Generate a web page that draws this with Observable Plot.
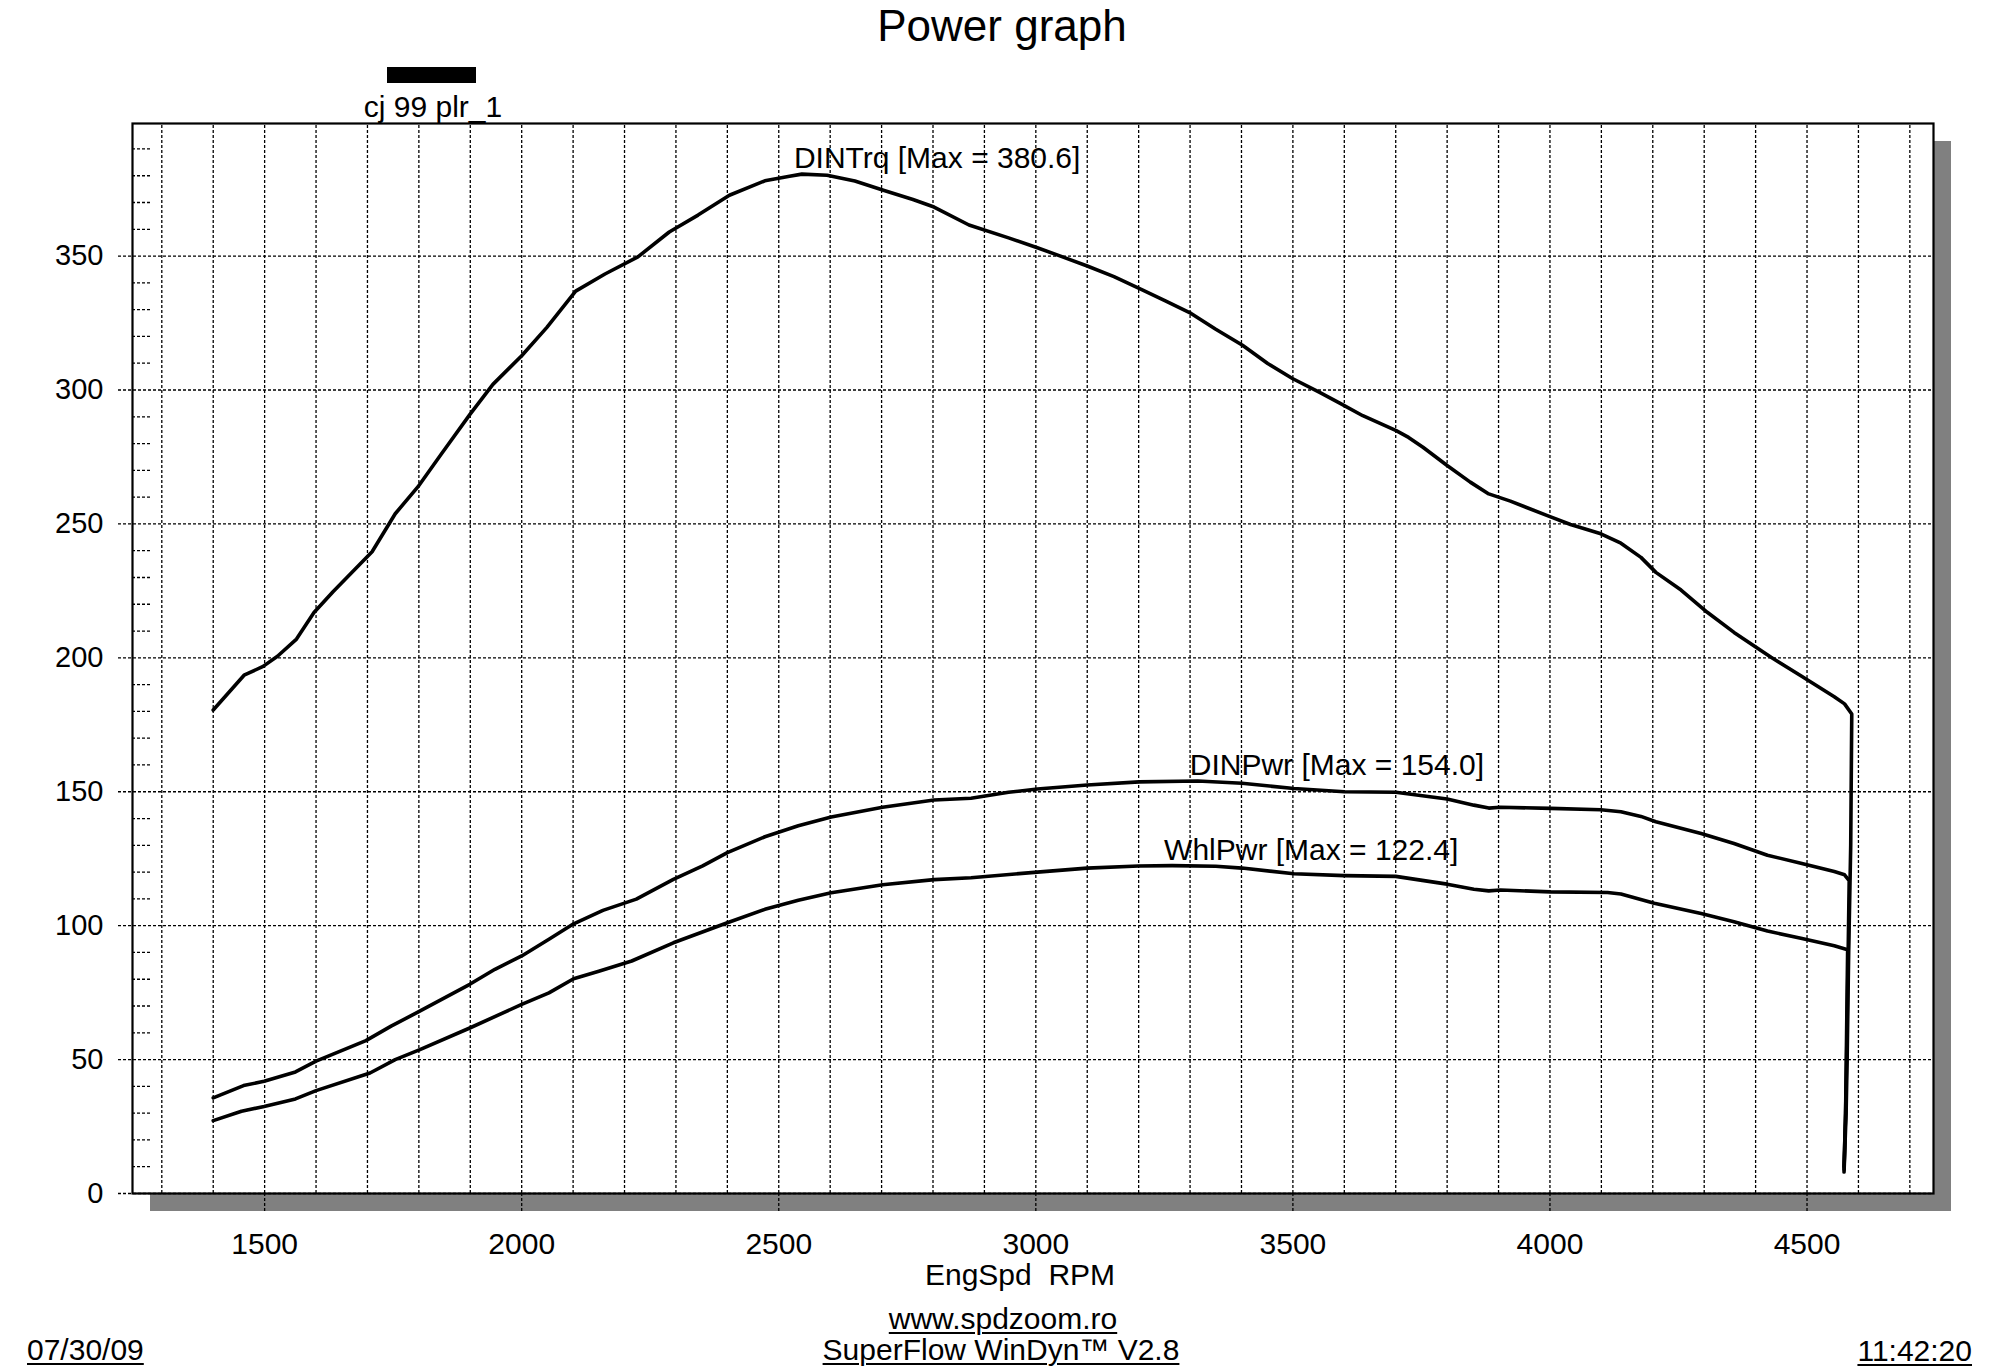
<!DOCTYPE html>
<html><head><meta charset="utf-8">
<script src="https://cdn.jsdelivr.net/npm/d3@7"></script>
<script src="https://cdn.jsdelivr.net/npm/@observablehq/plot@0.6"></script>
<style>
html,body{margin:0;padding:0;background:#fff;}
#wrap{position:relative;width:2000px;height:1366px;overflow:hidden;font-family:'Liberation Sans',Arial,sans-serif;color:#000;}
#wrap svg{position:absolute;left:0;top:0;}
.t{position:absolute;white-space:pre;line-height:1;font-size:30px;}
.u{text-decoration:underline;text-decoration-thickness:2px;text-underline-offset:3px;}
</style></head><body><div id="wrap"></div>
<script>
// ---- data ----
const trqRpm = [1400,1460,1497,1525,1562,1596,1633,1709,1754,1798,1843,1899,1944,2000,2049,2105,2162,2226,2287,2343,2404,2473,2521,2545,2594,2648,2705,2761,2802,2870,2947,3003,3048,3100,3152,3205,3253,3302,3350,3402,3451,3499,3552,3592,3636,3701,3725,3753,3800,3845,3881,3923,3995,4040,4099,4138,4177,4206,4255,4306,4358,4430,4488,4553,4573,4587,4585,4581,4578,4576,4572];
const trqNm  = [180.5,193.5,196.8,200.6,207,216.9,224.7,239.6,253.8,263.8,275.9,290.8,302.1,312.8,323.4,336.9,343.3,349.7,359,365.3,372.7,378.1,379.8,380.6,380.2,378,374.5,371.1,368.3,361.6,356.8,353.1,350,346.3,342.3,337.6,333.2,328.6,322.7,316.7,309.9,304.3,299.1,295,290.4,284.8,282.3,278.6,271.8,265.6,261.2,258.5,253.1,249.8,246.3,242.8,237.5,231.9,225.3,217,209.5,200.2,193.3,185.5,182.8,179,130,90,50,30,8];
const pwrRpm = [1400,1459,1499,1560,1600,1697,1746,1798,1899,1948,2000,2053,2101,2158,2223,2295,2352,2400,2473,2538,2602,2702,2802,2874,2947,3003,3100,3201,3315,3401,3502,3600,3700,3800,3852,3881,3904,4001,4099,4138,4177,4206,4294,4358,4423,4488,4553,4573,4582,4580,4577,4575,4572];
const pwrCP  = [35.7,40.3,41.9,45.4,49.4,57.1,62.5,67.7,78.1,83.7,88.7,94.9,100.7,105.7,109.9,117.3,122.3,127.3,133.2,137.3,140.6,144.2,146.9,147.6,149.8,151,152.5,153.7,154.0,153.2,151.2,150,149.8,147.3,145,143.9,144.2,143.8,143.3,142.5,140.8,138.8,134.4,130.7,126.3,123.3,120.2,119,116.8,90,50,30,10];
const whlRpm = [1400,1455,1499,1560,1600,1705,1754,1802,1899,2000,2053,2101,2150,2214,2295,2400,2473,2538,2602,2702,2802,2874,3003,3100,3200,3265,3350,3401,3502,3600,3700,3800,3852,3881,3904,4001,4112,4138,4203,4294,4358,4423,4488,4553,4579,4577,4575,4572];
const whlCP  = [27.2,30.7,32.5,35.3,38.4,45,50,53.7,61.8,70.6,74.9,80.2,83,86.8,93.6,101.1,106.1,109.5,112.3,115.3,117.2,117.9,120,121.5,122.3,122.4,122.2,121.5,119.4,118.7,118.4,115.5,113.6,113,113.3,112.6,112.4,111.8,108.4,104.5,101.5,98,95.3,92.5,91,60,30,9];
const seriesNames = ["DINTrq","DINPwr","WhlPwr"];
const xTicks = [1500,2000,2500,3000,3500,4000,4500];
const yTicks = [0,50,100,150,200,250,300,350];
const xGrid = d3.range(1300, 4701, 100);
const yMinor = d3.range(10, 400, 10).filter(v => v % 50 !== 0);

// ---- build table ----
const cols = [[trqRpm,trqNm],[pwrRpm,pwrCP],[whlRpm,whlCP]];
const rows = [];
cols.forEach(([r,v],k) => r.forEach((rpm,i) => rows.push({name: seriesNames[k], rpm, value: v[i]})));
const maxes = seriesNames.map(n => {
  const s = rows.filter(d => d.name === n);
  const m = s.reduce((a,b) => b.value > a.value ? b : a);
  return {rpm: m.rpm, value: m.value, text: `${n} [Max = ${m.value.toFixed(1)}]`};
});

const X0 = 1243, X1 = 4746, Y0 = 0, Y1 = 399.5;
const dash = {stroke: "#000", strokeWidth: 1.3, strokeDasharray: "3,2"};
const font = "'Liberation Sans', Arial, sans-serif";

const chart = Plot.plot({
  width: 2000, height: 1366,
  marginLeft: 132, marginRight: 67, marginTop: 123, marginBottom: 173,
  x: {domain: [X0, X1]},
  y: {domain: [Y0, Y1]},
  style: {fontFamily: font, fontSize: "30px", background: "transparent", color: "#000", overflow: "visible"},
  marks: [
    Plot.rect([0], {x1: X0, x2: X1, y1: Y0, y2: Y1, dx: 18, dy: 18, fill: "#808080"}),
    Plot.rect([0], {x1: X0, x2: X1, y1: Y0, y2: Y1, fill: "#fff"}),
    Plot.ruleX(xGrid, {y1: Y0, y2: Y1, ...dash}),
    Plot.ruleX(xTicks, {y1: Y0, y2: Y0, insetBottom: -20, ...dash}),
    Plot.ruleY(yTicks, {x1: X0, x2: X1, insetLeft: -14, ...dash}),
    Plot.ruleY(yMinor, {x1: X0, x2: X0, insetRight: -20, ...dash}),
    Plot.line(rows, {x: "rpm", y: "value", z: "name", stroke: "#000", strokeWidth: 3.6, strokeLinejoin: "round", strokeLinecap: "round"}),
    Plot.frame({stroke: "#000", strokeWidth: 2.2}),
    Plot.text(maxes, {x: "rpm", y: "value", text: "text", textAnchor: "start", lineAnchor: "bottom", dx: -8, dy: -6, fontSize: 30, fill: "#000"}),
    Plot.axisX(xTicks, {tickSize: 0, tickPadding: 39, fontSize: 30, label: null, tickFormat: d => String(d)}),
    Plot.axisY(yTicks, {tickSize: 0, tickPadding: 29, fontSize: 29, label: null, tickFormat: d => String(d)})
  ]
});
const wrap = document.getElementById("wrap");
wrap.appendChild(chart);

// ---- texts around the chart ----
function addText(txt, opts) {
  const d = document.createElement("div");
  d.className = "t" + (opts.u ? " u" : "");
  d.textContent = txt;
  const fs = opts.fs || 30;
  d.style.fontSize = fs + "px";
  d.style.top = (opts.base - 0.8465 * fs) + "px";
  if (opts.center != null) { d.style.left = opts.center + "px"; d.style.transform = "translateX(-50%)"; }
  if (opts.left != null) d.style.left = opts.left + "px";
  if (opts.right != null) d.style.right = opts.right + "px";
  wrap.appendChild(d);
}
addText("Power graph", {center: 1002, base: 41, fs: 44});
const bar = document.createElement("div");
Object.assign(bar.style, {position: "absolute", left: "387px", top: "67px", width: "89px", height: "16px", background: "#000"});
wrap.appendChild(bar);
addText("cj 99 plr_1", {center: 433, base: 117});
addText("EngSpd  RPM", {center: 1020, base: 1285});
addText("www.spdzoom.ro", {center: 1003, base: 1329, u: true});
addText("SuperFlow WinDyn\u2122 V2.8", {center: 1001, base: 1360, u: true});
addText("07/30/09", {left: 27, base: 1360, u: true});
addText("11:42:20", {right: 28, base: 1361, u: true});
</script></body></html>
